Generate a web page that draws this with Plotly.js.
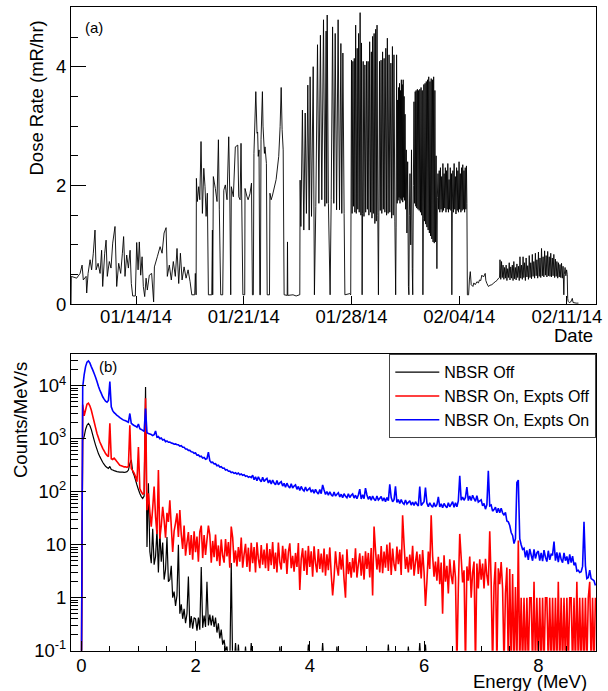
<!DOCTYPE html>
<html><head><meta charset="utf-8">
<script src="https://cdn.plot.ly/plotly-3.0.1.min.js"></script>
<style>html,body{margin:0;padding:0;background:#fff}#chart{width:608px;height:691px}</style>
</head><body><div id="chart"></div>
<script>
// ---------- Panel (a): dose rate, [day of 2014 counted from Jan 1 = 1, mR/hr] ----------
const doseJan10to24 = [
[9.77,0.00],[9.79,0.47],[10.14,0.44],[10.36,0.52],[10.49,0.66],[10.57,0.41],[10.75,0.47],[10.79,0.19],[10.88,0.52],[11.01,0.75],
[11.11,0.58],[11.22,0.86],[11.33,1.25],[11.40,0.58],[11.53,0.69],[11.66,0.52],[11.76,0.91],[11.83,0.30],[11.96,0.86],[12.05,1.08],
[12.13,0.47],[12.26,0.72],[12.37,0.61],[12.48,1.03],[12.63,1.31],[12.74,0.30],[12.87,0.69],[13.00,0.52],[13.11,0.86],[13.19,1.14],
[13.28,0.47],[13.39,0.83],[13.50,0.61],[13.61,0.91],[13.69,0.35],[13.78,0.14],[13.95,0.14],[14.04,1.04],[14.13,0.58],[14.21,1.05],
[14.30,0.49],[14.39,0.80],[14.47,0.30],[14.56,0.13],[14.65,0.44],[14.73,0.24],[14.86,0.49],[15.01,0.52],[15.14,0.04],[15.19,0.63],
[15.38,0.80],[15.56,0.97],[15.69,0.86],[15.82,1.20],[15.95,1.29],[16.03,0.47],[16.16,0.66],[16.29,0.41],[16.42,0.72],[16.55,0.47],
[16.66,0.94],[16.77,0.35],[16.88,0.86],[16.99,0.41],[17.12,0.63],[17.25,0.44],[17.38,0.58],[17.51,0.38],[17.62,0.16],[17.81,0.16],
[17.85,0.52],[17.90,0.16],[17.92,2.12],[17.98,1.73],[18.07,1.98],[18.14,1.76],[18.22,2.74],[18.31,1.53],[18.40,2.29],[18.48,1.98],
[18.55,1.48],[18.63,1.87],[18.70,0.16],[18.92,0.16],[18.96,1.25],[18.98,0.16],[19.02,2.15],[19.15,1.95],[19.26,1.73],[19.35,2.77],
[19.41,1.59],[19.50,0.16],[19.63,0.16],[19.70,1.92],[19.80,2.01],[19.91,1.76],[20.02,2.82],[20.09,1.84],[20.15,0.16],[20.19,1.98],
[20.32,1.81],[20.45,2.65],[20.61,2.68],[20.67,1.81],[20.76,1.76],[20.82,2.71],[20.94,0.16],[21.06,0.16],[21.08,1.95],[21.20,1.82],
[21.28,1.76],[21.40,1.86],[21.50,2.04],[21.56,0.16],[21.62,0.16],[21.66,2.54],[21.78,3.58],[21.86,2.88],[21.90,2.90],[21.94,2.49],
[21.99,2.60],[22.04,0.16],[22.08,0.16],[22.12,2.77],[22.21,3.58],[22.25,3.00],[22.34,2.54],[22.38,2.65],[22.47,2.37],[22.52,0.16],
[22.67,0.16],[22.70,1.87],[22.78,1.76],[22.87,1.84],[23.10,2.10],[23.27,2.49],[23.36,2.99],[23.43,3.65],[23.49,2.94],[23.56,2.60],
[23.62,0.16],[23.82,0.15],[23.84,1.05],[23.86,0.15],[24.20,0.16],[24.40,0.14],[24.62,0.16]];
const doseJan24to28 = [
[24.64,0.16],[24.66,2.09],[24.71,1.31],[24.81,3.27],[24.90,1.25],[24.99,3.22],[25.07,1.53],[25.16,3.69],[25.25,1.25],[25.31,3.83],
[25.40,1.48],[25.51,4.00],[25.59,0.16],[25.68,1.65],[25.79,4.37],[25.88,1.70],[25.98,4.53],[26.07,1.76],[26.18,4.79],[26.27,1.65],
[26.35,4.60],[26.39,1.70],[26.42,4.87],[26.50,1.70],[26.61,0.16],[26.68,1.76],[26.77,4.67],[26.85,1.70],[26.94,4.56],[27.03,1.59],
[27.13,4.79],[27.22,1.59],[27.31,4.39],[27.37,1.53],[27.44,4.23],[27.52,1.53],[27.57,0.16]];
const doseJan28to31 = [
[27.89,0.18],[27.95,0.16],[28.00,4.11],[28.04,1.53],[28.09,4.09],[28.13,1.65],[28.18,4.14],[28.22,1.55],[28.27,4.70],[28.31,1.53],
[28.37,4.31],[28.41,1.60],[28.46,4.56],[28.50,1.55],[28.56,4.91],[28.61,1.50],[28.65,4.40],[28.69,0.16],[28.72,1.53],[28.76,4.09],
[28.81,1.48],[28.87,4.03],[28.92,1.55],[28.98,4.09],[29.03,1.60],[29.08,4.09],[29.13,1.50],[29.18,4.42],[29.24,1.55],[29.29,4.25],
[29.33,1.45],[29.37,4.51],[29.42,1.53],[29.47,4.56],[29.52,1.36],[29.57,4.63],[29.61,1.40],[29.66,4.70],[29.71,1.50],[29.75,0.16],
[29.78,1.55],[29.82,4.09],[29.87,1.58],[29.92,4.11],[29.97,1.53],[30.02,4.25],[30.07,1.60],[30.12,4.14],[30.17,1.55],[30.23,4.31],
[30.28,1.50],[30.33,4.48],[30.38,1.53],[30.44,4.20],[30.49,1.55],[30.56,4.06],[30.61,1.45],[30.66,4.34],[30.71,1.50],[30.76,4.20],
[30.82,1.40],[30.87,0.16],[30.90,1.30]];
const doseJan31toFeb2 = [
[30.93,4.20],[30.97,1.70],[31.00,3.44],[31.03,1.75],[31.06,3.65],[31.09,1.80],[31.12,3.72],[31.15,1.70],[31.18,3.60],[31.21,1.78],
[31.24,3.78],[31.27,1.75],[31.30,3.70],[31.33,1.72],[31.36,3.78],[31.39,1.80],[31.42,3.50],[31.45,1.75],[31.48,3.20],[31.52,1.60],
[31.56,2.60],[31.60,1.20],[31.65,2.40],[31.70,0.30],[31.73,0.16],[31.76,1.50],[31.80,2.20],[31.85,1.00],[31.90,2.60],[31.95,0.60],
[31.98,0.16],[32.02,2.00],[32.06,3.41],[32.10,1.70],[32.14,3.58],[32.18,1.65],[32.20,3.60],[32.24,1.62],[32.28,3.62],[32.32,1.60],
[32.36,3.60],[32.40,1.58],[32.44,3.62],[32.48,1.55],[32.52,3.65],[32.56,1.50],[32.60,3.60],[32.64,0.16],[32.67,1.45],[32.70,3.70],
[32.74,1.40],[32.78,3.72],[32.82,1.35],[32.86,3.75],[32.90,1.30],[32.94,3.78],[32.98,1.25],[33.02,3.83],[33.06,1.20],[33.10,3.75],
[33.14,1.15],[33.18,3.80],[33.22,1.10],[33.26,3.78],[33.30,1.05],[33.34,3.83],[33.38,1.03],[33.42,3.60],[33.46,1.05],[33.50,2.50],
[33.55,0.60],[33.58,1.80]];
const doseFeb2to4 = [
[33.62,2.20],[33.66,1.60],[33.70,2.25],[33.74,1.55],[33.78,2.30],[33.82,1.60],[33.86,2.15],[33.90,1.55],[33.94,2.37],[33.98,1.58],
[34.02,2.20],[34.06,1.62],[34.10,2.30],[34.14,1.55],[34.18,2.25],[34.22,1.60],[34.26,2.37],[34.30,1.55],[34.34,2.10],[34.38,1.60],
[34.42,2.30],[34.46,1.58],[34.50,2.20],[34.52,0.16],[34.55,1.60],[34.59,2.25],[34.63,1.55],[34.67,2.37],[34.71,1.60],[34.75,2.15],
[34.79,1.52],[34.83,2.30],[34.87,1.58],[34.91,2.25],[34.95,1.55],[34.99,2.40],[35.03,1.60],[35.07,2.20],[35.11,1.55],[35.15,2.30],
[35.19,1.58],[35.23,2.35],[35.27,1.60],[35.31,2.25],[35.35,1.55],[35.39,2.30],[35.43,1.60],[35.47,2.33],[35.50,1.70],[35.53,0.16]];
const doseFeb4to6 = [
[35.61,0.16],[35.66,0.41],[35.72,0.55],[35.78,0.33],[35.89,0.30],[35.95,0.36],[36.04,0.33],[36.15,0.38],[36.25,0.36],[36.32,0.41],
[36.40,0.40],[36.47,0.49],[36.58,0.46],[36.69,0.52],[36.73,0.40],[36.80,0.35],[36.90,0.30],[37.00,0.32],[37.12,0.33],[37.25,0.36],
[37.34,0.38],[37.45,0.40],[37.56,0.44],[37.62,0.45]];
const doseFeb6to12 = [
[37.65,0.75],[37.70,0.42],[37.75,0.72],[37.80,0.45],[37.85,0.66],[37.90,0.42],[37.95,0.62],[38.00,0.44],[38.05,0.66],[38.10,0.40],
[38.15,0.60],[38.20,0.45],[38.25,0.70],[38.30,0.41],[38.35,0.63],[38.40,0.44],[38.45,0.66],[38.50,0.40],[38.55,0.72],[38.60,0.43],
[38.65,0.62],[38.70,0.41],[38.75,0.68],[38.80,0.45],[38.85,0.64],[38.90,0.40],[38.95,0.80],[39.00,0.44],[39.05,0.66],[39.10,0.42],
[39.15,0.80],[39.20,0.45],[39.25,0.70],[39.30,0.40],[39.35,0.78],[39.40,0.46],[39.45,0.65],[39.50,0.42],[39.55,0.82],[39.60,0.45],
[39.65,0.70],[39.70,0.43],[39.75,0.84],[39.80,0.47],[39.85,0.72],[39.90,0.44],[39.95,0.86],[40.00,0.48],[40.05,0.75],[40.10,0.44],
[40.15,0.88],[40.20,0.47],[40.25,0.78],[40.30,0.45],[40.35,0.94],[40.40,0.48],[40.45,0.80],[40.50,0.46],[40.55,0.90],[40.60,0.49],
[40.65,0.82],[40.70,0.46],[40.75,0.89],[40.80,0.48],[40.85,0.80],[40.90,0.47],[40.95,0.86],[41.00,0.46],[41.05,0.78],[41.10,0.48],
[41.15,0.84],[41.20,0.45],[41.25,0.76],[41.30,0.47],[41.35,0.72],[41.40,0.44],[41.45,0.70],[41.50,0.46],[41.55,0.67],[41.60,0.45],
[41.65,0.69],[41.70,0.44],[41.75,0.64],[41.80,0.16],[41.83,0.50],[41.88,0.62],[41.93,0.48],[41.98,0.58],[42.02,0.50],[42.05,0.10],
[42.08,0.05],[42.15,0.03],[42.25,0.04],[42.35,0.10],[42.40,0.03],[42.60,0.02],[42.75,0.02]];

// ---------- Panel (b): gamma spectra, histogram bins of 0.025 MeV starting at 0 MeV ----------
const specE0 = 0.0;
const specBinWidth = 0.025;
const seriesNames = ['NBSR Off', 'NBSR On, Expts Off', 'NBSR On, Expts On'];
const nbsrOffCounts = [
0.01,940,1100,1500,1800,1950,1780,1500,1180,940,
760,630,525,460,407,360,330,302,288,275,
300,262,257,250,245,240,238,235,235,235,
232,235,240,257,340,400,238,205,166,134,
110,93,81,75,83,9500,9.1,145,7.5,4.5,
20,4.2,6.0,19,3.0,18,4.8,11,2.2,3.4,
14,2.0,2.2,4.0,1.0,1.3,0.7,1.1,10,0.5,
0.75,0.4,0.62,0.33,0.5,2.5,0.27,0.45,0.26,0.42,
0.4,0.24,0.42,0.25,3.8,0.27,0.46,0.28,2.0,0.3,
0.48,0.3,0.46,0.28,0.42,0.22,0.33,0.17,0.25,0.13,
0.16,0.1,0.12,0.06,0.05,4.5,0.05,0.05,0.14];
const nbsrOffTailE = [2.725,2.75,2.775,2.85,2.875,2.9,2.95,2.975,3.0,3.45,3.475,3.5,3.95,3.975,4.0,4.2,4.225,4.25,4.45,4.475,4.5,5.35,5.375,5.4,5.7,5.725,5.75,5.9,5.925,5.95,6.0,6.025,6.05,9.0];
const nbsrOffTailCounts = [0.05,0.13,0.05,0.05,0.12,0.05,0.05,0.14,0.05,0.05,0.12,0.05,0.05,0.13,0.05,0.05,0.14,0.05,0.05,0.12,0.05,0.05,0.13,0.05,0.05,0.12,0.05,0.05,0.14,0.05,0.05,0.13,0.05,0.05];
const exptsOffCounts = [
0.01,4400,2700,3500,4500,4700,4200,3500,2700,2100,
1620,1260,1050,870,760,660,590,525,485,460,
1950,420,407,430,400,370,340,316,310,302,
295,295,288,300,1800,275,250,224,192,155,
700,115,100,91,93,5800,45,93,42,22,
49,126,34,16,257,13,23,52,29,13.6,
40,27,69,22.5,7.3,18,25.6,39,14,45,
15.6,8.3,23,6.2,11,17.3,6.4,15.2,5.2,18,
7.2,14.3,4.8,17.5,23,5.6,15.3,6.4,12.3,23,
15.3,4.6,11.8,5.8,15.6,4.9,9.7,4.0,12.6,6.2,
4.6,12.8,6.0,11.2,3.7,22,13.6,4.6,7.8,3.9,
9.0,4.8,13.6,3.7,6.6,10.4,3.8,8.8,3.1,10.9,
4.5,9.0,3.0,11.1,5.4,3.6,9.9,4.2,8.1,3.6,
10.6,3.2,8.3,4.1,11.2,3.5,7.1,3.0,11,4.7,
3.4,9.5,4.5,8.4,2.8,7.3,10.6,3.6,6.2,3.1,
7.0,3.8,10.8,1.4,5.4,8.6,3.2,7.8,2.7,9.5,
3.8,7.5,2.5,9.3,4.5,3.0,8.3,3.5,6.8,3.0,
8.5,2.6,6.6,3.3,8.9,2.8,1.1,2.4,7.5,3.8,
2.6,7.3,3.4,6.5,2.2,1.0,8.2,2.8,4.7,2.4,
5.6,3.0,8.6,2.4,4.3,6.9,2.6,6.2,2.2,7.5,
3.5,7.0,2.4,8.7,1.1,22,8.0,3.4,6.6,3.0,
9.5,2.9,7.4,3.7,10.1,3.2,11,2.7,8.5,4.2,
3.2,9.2,4.3,8.1,2.7,36,10.3,3.5,5.9,3.0,
6.5,3.4,9.6,2.6,4.7,7.4,2.8,6.6,2.3,7.9,
3.1,0.7,2.0,7.4,3.5,36,6.1,2.5,4.8,2.1,
5.9,1.8,4.6,0.5,6.3,2.0,4.0,1.2,5.3,2.6,
1.8,5.1,2.4,0.05,1.5,16,5.7,1.95,3.3,0.05,
3.9,2.1,6.0,1.0,3.0,4.8,0.05,4.4,1.5,5.3,
2.2,4.4,1.5,5.4,2.6,1.7,18,2.0,0.05,1.7,
4.7,0.05,3.6,1.8,4.7,1.5,0.05,1.2,3.7,0.05,
3.5,0.05,2.8,0.05,1.6,0.05,12,0.05,1.0,0.05,
1.0,0.05,1.0,0.05,1.0,1.0,0.05,2.0,0.05,1.0,
0.05,1.0,0.05,1.0,0.05,1.0,1.0,0.05,1.0,0.05,
1.0,0.05,1.0,0.05,2.0,0.05,1.0,0.05,1.0,0.05,
1.0,0.05,1.0,1.0,0.05,1.0,0.05,2.0,0.05,1.0,
0.05,1.0,0.05,1.0,0.05,1.0,2.0,0.05,1.0,0.05,
1.0];
const exptsOnCounts = [
0.01,9500,16000,23000,28000,29500,27000,23000,20000,17000,
14500,12000,9800,8300,7200,6200,5600,5100,4900,5300,
12000,4000,3400,3100,2950,2750,2650,2500,2400,2300,
2230,2180,2120,2050,3000,1950,1860,1780,1730,1650,
1900,1550,1500,1440,1380,3700,1300,1260,1230,1200,
1150,1190,1400,1070,1100,1000,1030,950,970,880,
910,860,870,830,820,790,800,770,770,730,
740,690,690,640,640,605,605,570,565,530,
540,490,495,460,470,435,445,410,420,560,
385,355,362,335,338,310,317,292,298,278,
280,257,262,244,245,230,235,222,228,216,
225,210,217,204,209,196,200,188,193,185,
205,169,191,161,191,168,155,187,156,169,
178,147,166,140,166,146,135,163,136,147,
155,128,144,122,145,127,118,142,118,128,
135,111,126,106,126,110,103,123,103,111,
118,98,110,94,111,98,91,110,92,135,
108,89,101,86,100,88,82,99,83,90,
96,80,90,77,92,82,77,92,78,86,
91,76,86,74,87,112,73,88,74,117,
87,72,82,69,83,73,68,83,70,75,
81,67,77,65,78,68,138,78,65,71,
126,63,71,60,71,62,58,70,59,63,
68,56,64,55,65,58,54,126,55,60,
65,120,61,52,62,55,51,62,52,57,
80,52,59,50,60,54,50,62,52,58,
65,51,62,52,67,200,69,79,69,78,
123,68,83,68,86,74,66,84,64,67,
70,54,60,47,57,250,54,56,43,46,
51,40,49,40,49,40,36,41,28,27,
23,17,15,10.5,13,150,166,13,10,8.2,
8.6,5.8,7.8,5.2,8.3,6.4,5.0,8.2,5.5,7.0,
7.6,5.0,7.0,4.9,7.9,5.8,4.8,7.7,5.2,6.6,
6.5,11.5,5.0,7.2,4.7,7.1,5.3,4.6,7.0,5.0,
6.0,4.3,6.6,4.6,6.1,4.1,4.6,3.2,3.3,3.0,
3.1,3.9,27,4.0,2.3,2.4,3.3,2.3,2.2,2.1,
1.7];

// ---------- build ----------
const DAY_MS = 86400000;
function dayToMs(d){ return Date.UTC(2014,0,1) + (d-1)*DAY_MS; }
const dose = [].concat(doseJan10to24, doseJan24to28, doseJan28to31, doseJan31toFeb2, doseFeb2to4, doseFeb4to6, doseFeb6to12);
function binE(arr){ return arr.map((_,i)=> +(specE0 + i*specBinWidth).toFixed(4)); }

const FONT = 'Liberation Sans, Arial, Helvetica, sans-serif';
const W = 608, H = 691;
const px = v => v / W, py = v => 1 - v / H;

const traces = [
  {x: dose.map(p=>dayToMs(p[0])), y: dose.map(p=>p[1]), type:'scatter', mode:'lines',
   line:{color:'#000', width:0.9, simplify:false}, xaxis:'x', yaxis:'y', showlegend:false, hoverinfo:'skip'},
  {x: binE(nbsrOffCounts).concat(nbsrOffTailE), y: nbsrOffCounts.concat(nbsrOffTailCounts), type:'scatter', mode:'lines',
   name: seriesNames[0], line:{color:'#000', width:1.2, simplify:false}, xaxis:'x2', yaxis:'y2'},
  {x: binE(exptsOffCounts), y: exptsOffCounts, type:'scatter', mode:'lines',
   name: seriesNames[1], line:{color:'#ff0000', width:1.6, simplify:false}, xaxis:'x2', yaxis:'y2'},
  {x: binE(exptsOnCounts), y: exptsOnCounts, type:'scatter', mode:'lines',
   name: seriesNames[2], line:{color:'#0000ff', width:1.6, simplify:false}, xaxis:'x2', yaxis:'y2'}
];

const minorLog = [];
for (let e=-1; e<5; e++) for (let m=2; m<=9; m++) minorLog.push(m*Math.pow(10,e));

const axCommon = {showline:true, linecolor:'#000', linewidth:1, mirror:true, showgrid:false, zeroline:false,
  ticks:'inside', tickcolor:'#000', tickwidth:1, tickfont:{family:FONT, size:18.5, color:'#000'}};
const xDom = [px(71), px(596)];

const layout = {
  width: W, height: H, margin:{l:0, r:0, t:0, b:0}, paper_bgcolor:'#fff', plot_bgcolor:'#fff',
  font:{family:FONT, color:'#000'},
  xaxis: Object.assign({}, axCommon, {domain:xDom, anchor:'y', type:'date',
    range:[dayToMs(9.77), dayToMs(43.89)], tickformat:'%m/%d/%y', tick0: dayToMs(14), dtick: 7*DAY_MS, ticklen:8,
    ticklabelstandoff:-5}),
  yaxis: Object.assign({}, axCommon, {domain:[py(304.3), py(7.3)], anchor:'x', range:[0,5], dtick:2, ticklen:15,
    minor:{dtick:0.5, ticks:'inside', ticklen:7, tickcolor:'#000', tickwidth:1}}),
  xaxis2: Object.assign({}, axCommon, {domain:xDom, anchor:'y2', range:[-0.18, 9.01], dtick:2, ticklen:10,
    ticklabelstandoff:-2,
    minor:{dtick:0.5, ticks:'inside', ticklen:5, tickcolor:'#000', tickwidth:1}}),
  yaxis2: Object.assign({}, axCommon, {domain:[py(650.7), py(354)], anchor:'x2', type:'log', range:[-1, 4.6],
    tickmode:'array', tickvals:[0.1,1,10,100,1000,10000],
    ticktext:['10<sup>-1</sup>','1','10','10<sup>2</sup>','10<sup>3</sup>','10<sup>4</sup>'], ticklen:15,
    minor:{tickmode:'array', tickvals:minorLog, ticks:'inside', ticklen:7, tickcolor:'#000', tickwidth:1}}),
  legend:{x:px(596), y:py(354), xanchor:'right', yanchor:'top', bgcolor:'#fff', bordercolor:'#444', borderwidth:1.3,
    font:{family:FONT, size:16, color:'#000'}, itemwidth:44, tracegroupgap:0},
  annotations:[
    {text:'Dose Rate (mR/hr)', xref:'paper', yref:'paper', x:px(36), y:py(98.5), textangle:-90, showarrow:false,
     xanchor:'center', yanchor:'middle', font:{family:FONT, size:18.5}},
    {text:'Counts/MeV/s', xref:'paper', yref:'paper', x:px(20), y:py(420), textangle:-90, showarrow:false,
     xanchor:'center', yanchor:'middle', font:{family:FONT, size:18.5}},
    {text:'Date', xref:'paper', yref:'paper', x:px(595), y:py(335), showarrow:false,
     xanchor:'right', yanchor:'middle', font:{family:FONT, size:18.5}},
    {text:'Energy (MeV)', xref:'paper', yref:'paper', x:px(589), y:py(681), showarrow:false,
     xanchor:'right', yanchor:'middle', font:{family:FONT, size:18.5}},
    {text:'(a)', xref:'paper', yref:'paper', x:px(94), y:py(27.5), showarrow:false,
     xanchor:'center', yanchor:'middle', font:{family:FONT, size:15}},
    {text:'(b)', xref:'paper', yref:'paper', x:px(108), y:py(366.7), showarrow:false,
     xanchor:'center', yanchor:'middle', font:{family:FONT, size:15}}
  ]
};

Plotly.newPlot('chart', traces, layout, {staticPlot:true, displayModeBar:false});
</script></body></html>
